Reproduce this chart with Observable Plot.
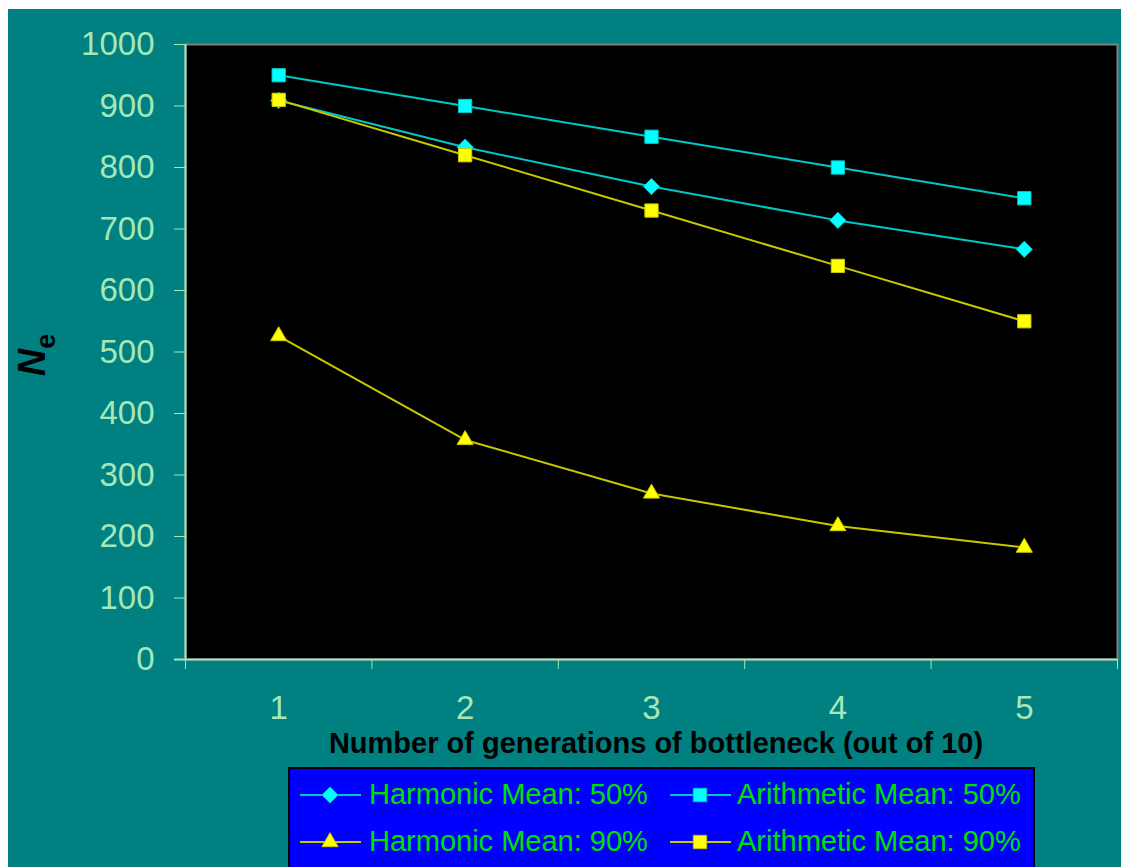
<!DOCTYPE html>
<html>
<head>
<meta charset="utf-8">
<script src="https://cdn.jsdelivr.net/npm/d3@7"></script>
<script src="https://cdn.jsdelivr.net/npm/@observablehq/plot@0.6"></script>
<style>
  html, body { margin: 0; padding: 0; background: #ffffff; }
  #wrap { position: absolute; left: 8px; top: 9px; width: 1113px; height: 858px; background: #008080; overflow: hidden; }
  #chart { position: absolute; left: 0; top: 0; }
  #legend { position: absolute; left: 280px; top: 758px; }
</style>
</head>
<body>
<div id="wrap">
  <div id="chart"></div>
  <div id="legend"></div>
</div>
<script>
// ---- data ----
const generations = [1, 2, 3, 4, 5];
const harmonic50 = [909, 833, 769, 714, 667];
const arithmetic50 = [950, 900, 850, 800, 750];
const harmonic90 = [526, 357, 270, 217, 182];
const arithmetic90 = [910, 820, 730, 640, 550];
const seriesNames = ["Harmonic Mean: 50%", "Arithmetic Mean: 50%", "Harmonic Mean: 90%", "Arithmetic Mean: 90%"];
const yTicks = [0, 100, 200, 300, 400, 500, 600, 700, 800, 900, 1000];
const xLabels = ["1", "2", "3", "4", "5"];
const xTitle = "Number of generations of bottleneck (out of 10)";

// ---- styles ----
const axisColor = "#a4e8b8";
const cyan = "#00ffff", cyanLine = "#00c8c8";
const yellow = "#ffff00", yellowLine = "#c8c800";
const styles = [
  {values: harmonic50, fill: cyan, line: cyanLine, symbol: "diamond2", r: 7.3},
  {values: arithmetic50, fill: cyan, line: cyanLine, symbol: "square", r: 7.5},
  {values: harmonic90, fill: yellow, line: yellowLine, symbol: "triangle", r: 6},
  {values: arithmetic90, fill: yellow, line: yellowLine, symbol: "square", r: 7.5}
];

const seriesMarks = styles.flatMap((s, k) => {
  const rows = generations.map((g, i) => ({gen: g, ne: s.values[i], series: seriesNames[k]}));
  return [
    Plot.line(rows, {x: "gen", y: "ne", stroke: s.line, strokeWidth: 2}),
    Plot.dot(rows, {x: "gen", y: "ne", symbol: s.symbol, r: s.r, fill: s.fill, stroke: s.line, strokeWidth: 1})
  ];
});

const boundaries = d3.range(generations.length + 1).map(i => generations[0] - 0.5 + i);

const chart = Plot.plot({
  width: 1113,
  height: 758,
  marginLeft: 177,
  marginRight: 4,
  marginTop: 35,
  marginBottom: 108,
  style: {background: "transparent", color: axisColor, fontFamily: "'Liberation Sans', Arial, sans-serif"},
  x: {type: "linear", domain: [boundaries[0], boundaries[boundaries.length - 1]]},
  y: {domain: [0, 1000]},
  marks: [
    Plot.frame({fill: "black", stroke: "#808080", strokeWidth: 2}),
    Plot.axisY({ticks: yTicks, tickSize: 11, tickPadding: 20, fontSize: 33, label: null, color: axisColor,
                tickFormat: (d) => String(d)}),
    Plot.axisX({ticks: boundaries, tickSize: 10, tickFormat: () => "", label: null, color: axisColor}),
    Plot.axisX({ticks: generations, tickSize: 0, tickPadding: 36, fontSize: 33, label: null, color: axisColor,
                tickFormat: (d) => xLabels[generations.indexOf(d)]}),
    Plot.ruleX([boundaries[0]], {stroke: axisColor, strokeWidth: 2}),
    Plot.ruleY([0], {stroke: axisColor, strokeWidth: 2, insetLeft: -11}),
    ...seriesMarks
  ]
});
document.getElementById("chart").appendChild(chart);

// axis titles
const svg = d3.select(chart);
svg.append("text")
  .attr("x", 648).attr("y", 744)
  .attr("text-anchor", "middle")
  .attr("font-family", "'Liberation Sans', Arial, sans-serif")
  .attr("font-weight", "bold").attr("font-size", 29)
  .attr("fill", "black")
  .text(xTitle);

const yt = svg.append("text")
  .attr("transform", "translate(37,346) rotate(-90)")
  .attr("text-anchor", "middle")
  .attr("font-family", "'Liberation Sans', Arial, sans-serif")
  .attr("font-weight", "bold")
  .attr("fill", "black");
yt.append("tspan").attr("font-style", "italic").attr("font-size", 38).text("N");
yt.append("tspan").attr("font-size", 27).attr("dy", 10).text("e");

// legend
const lg = d3.select("#legend").append("svg").attr("width", 750).attr("height", 110);
lg.append("rect").attr("x", 1).attr("y", 1).attr("width", 745).attr("height", 130)
  .attr("fill", "#0000ff").attr("stroke", "#000000").attr("stroke-width", 2);
const symbolTypes = {diamond2: d3.symbolDiamond2, square: d3.symbolSquare, triangle: d3.symbolTriangle};
const positions = [
  {x: 12, y: 28, tx: 81}, {x: 382, y: 28, tx: 449},
  {x: 12, y: 75, tx: 81}, {x: 382, y: 75, tx: 449}
];
styles.forEach((s, k) => {
  const p = positions[k];
  lg.append("line").attr("x1", p.x).attr("x2", p.x + 61).attr("y1", p.y).attr("y2", p.y)
    .attr("stroke", s.line).attr("stroke-width", 2);
  lg.append("path")
    .attr("d", d3.symbol(symbolTypes[s.symbol], Math.PI * s.r * s.r)())
    .attr("transform", `translate(${p.x + 30},${p.y})`)
    .attr("fill", s.fill).attr("stroke", s.line).attr("stroke-width", 1);
  lg.append("text").attr("x", p.tx).attr("y", p.y + 9)
    .attr("font-family", "'Liberation Sans', Arial, sans-serif")
    .attr("font-size", 29).attr("fill", "#00e000")
    .text(seriesNames[k]);
});
</script>
</body>
</html>
